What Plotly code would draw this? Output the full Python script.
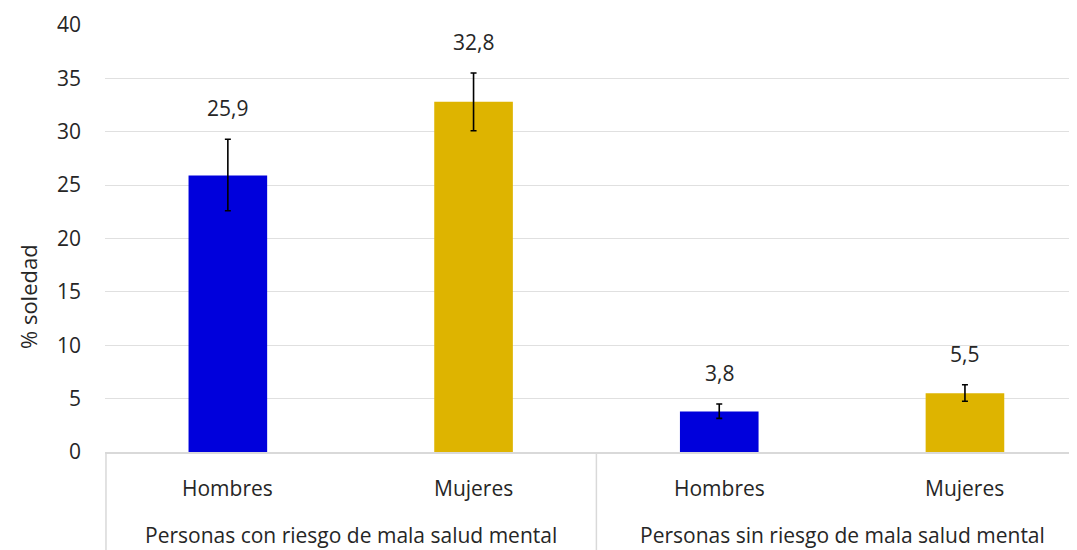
import plotly.graph_objects as go

# ---- data ----
sexes = ["Hombres", "Mujeres", "Hombres", "Mujeres"]
groups = ["Personas con riesgo de mala salud mental",
          "Personas sin riesgo de mala salud mental"]
values = [25.9, 32.8, 3.8, 5.5]
err_plus = [3.4, 2.7, 0.7, 0.8]
err_minus = [3.3, 2.7, 0.65, 0.75]
value_labels = ["25,9", "32,8", "3,8", "5,5"]
y_ticks = [0, 5, 10, 15, 20, 25, 30, 35, 40]

colors = ["#0000DC", "#DEB400", "#0000DC", "#DEB400"]
FONT = "Open Sans"
TXT = "#262626"

OFF = 8  # page body margin
W, H = 1077 - OFF, 550 - OFF
ML, MT, MB = 105 - OFF, 25 - OFF, 98
plot_h = H - MT - MB
cat_px = 245.7
x_max = -0.5 + (W - ML) / cat_px

xs = list(range(len(values)))

fig = go.Figure()
fig.add_trace(go.Bar(
    x=xs, y=values, width=0.32,
    marker=dict(color=colors, line=dict(width=0)),
    error_y=dict(type="data", symmetric=False, array=err_plus, arrayminus=err_minus,
                 color="#000000", thickness=1.6, width=3),
    hoverinfo="skip",
))

ann = []
for i, (v, e, lab) in enumerate(zip(values, err_plus, value_labels)):
    ann.append(dict(x=i, y=v + e, xref="x", yref="y", text=lab, showarrow=False,
                    yanchor="bottom", yshift=15, font=dict(size=21, color=TXT, family=FONT)))
for i, s in enumerate(sexes):
    ann.append(dict(x=i, y=-36 / plot_h, xref="x", yref="paper", text=s, showarrow=False,
                    yanchor="middle", font=dict(size=21, color=TXT, family=FONT)))
for g, name in enumerate(groups):
    ann.append(dict(x=2 * g + 0.5, y=-83 / plot_h, xref="x", yref="paper", text=name,
                    showarrow=False, yanchor="middle", font=dict(size=21, color=TXT, family=FONT)))
ann.append(dict(x=-(105 - 28) / (W - ML), y=(452 - 297) / plot_h, xref="paper", yref="paper",
                text="% soledad", textangle=-90, showarrow=False, xanchor="center",
                yanchor="middle", font=dict(size=22, color=TXT, family=FONT)))

shapes = [
    dict(type="line", xref="paper", yref="paper", x0=0.001, x1=0.001, y0=0, y1=-MB / plot_h,
         line=dict(color="#D9D9D9", width=1.5)),
    dict(type="line", xref="x", yref="paper", x0=1.5, x1=1.5, y0=0, y1=-MB / plot_h,
         line=dict(color="#D9D9D9", width=1.5)),
]

fig.update_layout(
    width=W, height=H,
    margin=dict(l=ML, r=0, t=MT, b=MB),
    paper_bgcolor="white", plot_bgcolor="white",
    showlegend=False,
    annotations=ann, shapes=shapes,
    font=dict(family=FONT, color=TXT),
    xaxis=dict(range=[-0.5, x_max], showticklabels=False, showgrid=False, zeroline=False,
               showline=True, linecolor="#D9D9D9", linewidth=1.5, ticks=""),
    yaxis=dict(range=[0, 40], tickvals=y_ticks, showgrid=True, gridcolor="#E0E0E0",
               gridwidth=1.4, zeroline=False, showline=False, ticks="",
               tickfont=dict(size=21, color=TXT, family=FONT), ticklabelstandoff=23),
)

fig.write_html("out.html")
